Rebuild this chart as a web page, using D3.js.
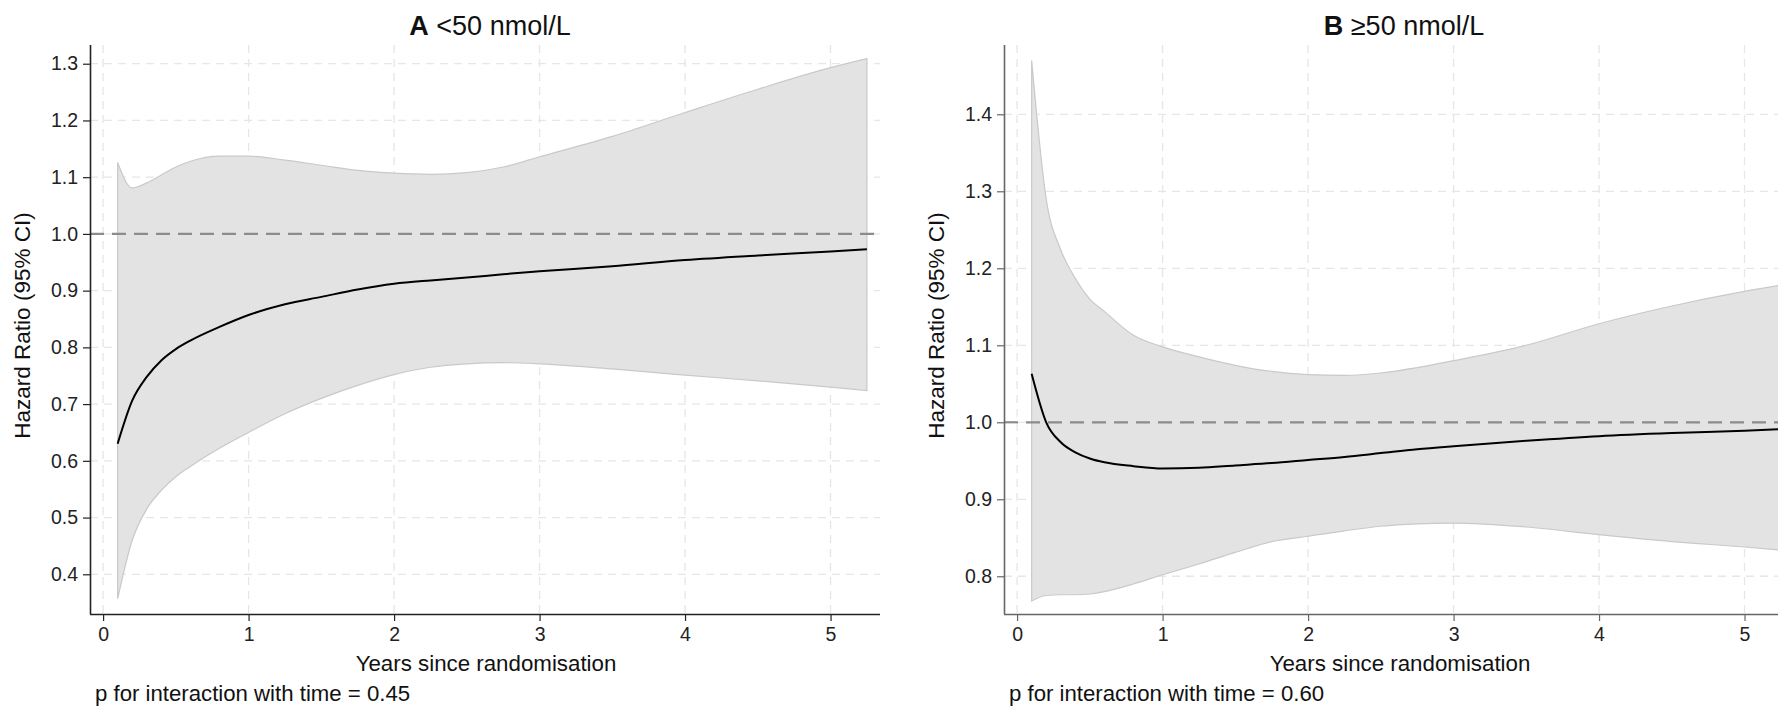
<!DOCTYPE html>
<html>
<head>
<meta charset="utf-8">
<script src="https://cdn.jsdelivr.net/npm/d3@7"></script>
<style>
  body { margin: 0; background: #fff; }
  svg { display: block; font-family: "Liberation Sans", Arial, sans-serif; }
</style>
</head>
<body>
<div id="chart"></div>
<script>
// years since randomisation
const timesA = [0.1, 0.2, 0.3, 0.4, 0.5, 0.6, 0.8, 1.0, 1.25, 1.5, 1.75, 2.0, 2.25, 2.5, 2.75, 3.0, 3.5, 4.0, 4.5, 5.0, 5.25];
const hrA    = [0.63, 0.706, 0.748, 0.777, 0.797, 0.812, 0.836, 0.857, 0.876, 0.889, 0.902, 0.912, 0.918, 0.923, 0.929, 0.934, 0.943, 0.954, 0.962, 0.969, 0.973];
const upperA = [1.126, 1.081, 1.09, 1.104, 1.118, 1.128, 1.137, 1.137, 1.13, 1.121, 1.112, 1.107, 1.105, 1.108, 1.118, 1.136, 1.172, 1.214, 1.255, 1.293, 1.309];
const lowerA = [0.357, 0.46, 0.515, 0.548, 0.572, 0.59, 0.622, 0.65, 0.683, 0.71, 0.733, 0.752, 0.765, 0.771, 0.773, 0.771, 0.762, 0.751, 0.741, 0.73, 0.724];

const timesB = [0.1, 0.2, 0.3, 0.4, 0.5, 0.6, 0.8, 1.0, 1.25, 1.5, 1.75, 2.0, 2.25, 2.5, 2.75, 3.0, 3.5, 4.0, 4.5, 5.0, 5.25];
const hrB    = [1.063, 1.0, 0.974, 0.961, 0.953, 0.948, 0.943, 0.940, 0.941, 0.944, 0.947, 0.951, 0.955, 0.96, 0.965, 0.969, 0.976, 0.982, 0.986, 0.989, 0.991];
const upperB = [1.47, 1.29, 1.224, 1.187, 1.16, 1.144, 1.113, 1.098, 1.085, 1.074, 1.066, 1.062, 1.061, 1.064, 1.071, 1.08, 1.1, 1.128, 1.151, 1.17, 1.178];
const lowerB = [0.768, 0.775, 0.776, 0.776, 0.777, 0.78, 0.79, 0.802, 0.816, 0.831, 0.845, 0.852, 0.859, 0.865, 0.868, 0.869, 0.864, 0.854, 0.845, 0.838, 0.834];

const xTicks = [0, 1, 2, 3, 4, 5];
const yTicksA = [0.4, 0.5, 0.6, 0.7, 0.8, 0.9, 1.0, 1.1, 1.2, 1.3];
const yTicksB = [0.8, 0.9, 1.0, 1.1, 1.2, 1.3, 1.4];

const panels = [
  { letter: "A", label: " <50 nmol/L", p: "p for interaction with time = 0.45",
    t: timesA, hr: hrA, lo: lowerA, hi: upperA, yTicks: yTicksA, yDomain: [0.33, 1.333],
    left: 90, axisColor: "#222" },
  { letter: "B", label: " \u226550 nmol/L", p: "p for interaction with time = 0.60",
    t: timesB, hr: hrB, lo: lowerB, hi: upperB, yTicks: yTicksB, yDomain: [0.751, 1.49],
    left: 1004, axisColor: "#666" }
];

const W = 1778, H = 707;
const plotTop = 45, plotBottom = 614, plotW = 790;
const xDomain = [-0.09, 5.34];

const svg = d3.select("#chart")
  .append("svg")
  .attr("width", W)
  .attr("height", H);

panels.forEach(pn => {
  const g = svg.append("g");
  const x = d3.scaleLinear().domain(xDomain).range([pn.left, pn.left + plotW]);
  const y = d3.scaleLinear().domain(pn.yDomain).range([plotBottom, plotTop]);

  const data = pn.t.map((t, i) => ({ t: t, hr: pn.hr[i], lo: pn.lo[i], hi: pn.hi[i] }));

  // grid
  g.selectAll(".vgrid")
    .data(xTicks)
    .join("line")
    .attr("x1", d => x(d)).attr("x2", d => x(d))
    .attr("y1", plotTop).attr("y2", plotBottom)
    .attr("stroke", "#e6e6e6").attr("stroke-width", 1.3)
    .attr("stroke-dasharray", "8,6");

  g.selectAll(".hgrid")
    .data(pn.yTicks)
    .join("line")
    .attr("x1", pn.left).attr("x2", pn.left + plotW)
    .attr("y1", d => y(d)).attr("y2", d => y(d))
    .attr("stroke", "#e6e6e6").attr("stroke-width", 1.3)
    .attr("stroke-dasharray", "8,6");

  // CI band
  const area = d3.area()
    .x(d => x(d.t))
    .y0(d => y(d.lo))
    .y1(d => y(d.hi))
    .curve(d3.curveMonotoneX);

  g.append("path")
    .datum(data)
    .attr("d", area)
    .attr("fill", "#e3e3e3")
    .attr("stroke", "#c9c9c9")
    .attr("stroke-width", 1.2);

  // reference line at HR = 1
  g.append("line")
    .attr("x1", pn.left).attr("x2", pn.left + plotW)
    .attr("y1", y(1)).attr("y2", y(1))
    .attr("stroke", "#8c8c8c").attr("stroke-width", 2.2)
    .attr("stroke-dasharray", "14,8");

  const line = d3.line()
    .x(d => x(d.t))
    .y(d => y(d.hr))
    .curve(d3.curveMonotoneX);

  g.append("path")
    .datum(data)
    .attr("d", line)
    .attr("fill", "none")
    .attr("stroke", "#000")
    .attr("stroke-width", 2);

  // axes
  const xAxis = g.append("g")
    .attr("transform", `translate(0,${plotBottom})`)
    .call(d3.axisBottom(x).tickValues(xTicks).tickSize(7).tickPadding(6).tickFormat(d3.format("d")));

  const yAxis = g.append("g")
    .attr("transform", `translate(${pn.left},0)`)
    .call(d3.axisLeft(y).tickValues(pn.yTicks).tickSize(7).tickPadding(5).tickFormat(d3.format(".1f")));

  [xAxis, yAxis].forEach(ax => {
    ax.select(".domain").attr("stroke", pn.axisColor).attr("stroke-width", 1.6);
    ax.selectAll(".tick line").attr("stroke", pn.axisColor).attr("stroke-width", 1.2);
    ax.selectAll(".tick text").attr("fill", "#222").style("font-size", "19.5px");
  });
  xAxis.select(".domain").attr("d", `M${pn.left},0.5H${pn.left + plotW}`);
  yAxis.select(".domain").attr("d", `M0.5,${plotBottom}V${plotTop}`);

  // titles
  const title = g.append("text")
    .attr("x", pn.left + 400)
    .attr("y", 35)
    .attr("text-anchor", "middle")
    .style("font-size", "27px")
    .attr("fill", "#111");
  title.append("tspan").attr("font-weight", "bold").text(pn.letter);
  title.append("tspan").text(pn.label);

  g.append("text")
    .attr("x", pn.left + 396)
    .attr("y", 671)
    .attr("text-anchor", "middle")
    .style("font-size", "22.3px")
    .attr("fill", "#111")
    .text("Years since randomisation");

  g.append("text")
    .attr("transform", `translate(${pn.left - 60},${(plotTop + plotBottom) / 2 - 4}) rotate(-90)`)
    .attr("text-anchor", "middle")
    .style("font-size", "22.5px")
    .attr("fill", "#111")
    .text("Hazard Ratio (95% CI)");

  g.append("text")
    .attr("x", pn.left + 5)
    .attr("y", 701)
    .style("font-size", "22.2px")
    .attr("fill", "#111")
    .text(pn.p);
});
</script>
</body>
</html>
